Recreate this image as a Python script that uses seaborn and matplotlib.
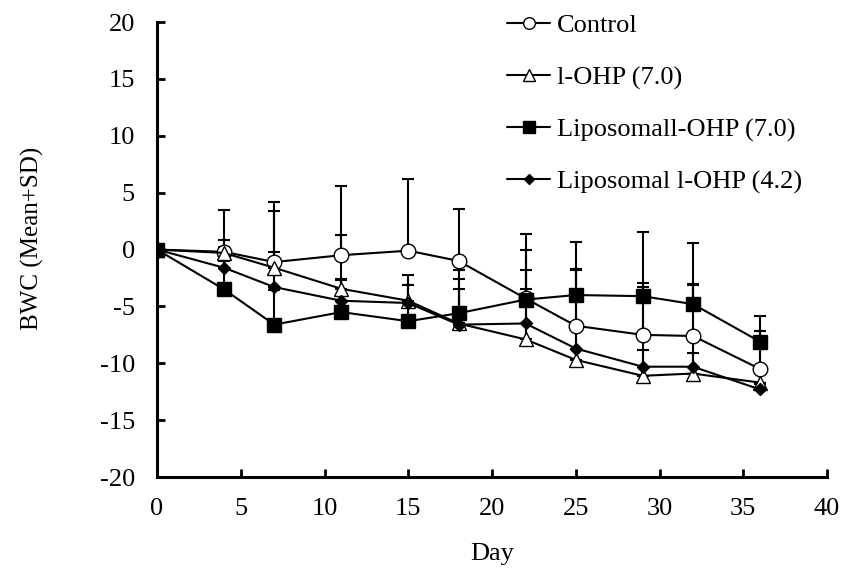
import numpy as np
import pandas as pd
import matplotlib
matplotlib.use("Agg")
import matplotlib.pyplot as plt
import seaborn as sns
from matplotlib.lines import Line2D

days = [0, 4, 7, 11, 15, 18, 22, 25, 29, 32, 36]
series_names = ["Control", "l-OHP (7.0)", "Liposomall-OHP (7.0)", "Liposomal l-OHP (4.2)"]
control = [0, -0.2, -1.1, -0.5, -0.1, -1.0, -4.3, -6.7, -7.5, -7.6, -10.5]
lohp = [0, -0.3, -1.6, -3.45, -4.5, -6.5, -7.9, -9.7, -11.1, -10.9, -11.7]
lipo70 = [0, -3.5, -6.6, -5.5, -6.3, -5.6, -4.4, -4.0, -4.1, -4.8, -8.1]
lipo42 = [0, -1.6, -3.3, -4.5, -4.7, -6.6, -6.5, -8.7, -10.3, -10.3, -12.3]
control_sd = [0, 3.7, 5.3, 6.1, 6.3, 4.6, 5.7, 7.4, 9.0, 8.2, 4.7]
lohp_sd = [0, 0.5, 5.0, 4.7, 2.3, 4.7, 7.9, 7.9, 8.2, 7.9, 4.5]
lipo70_sd = [0, 4.3, 3.0, 2.8, 3.2, 2.1, 2.6, 2.3, 0.8, 1.7, 0.9]
lipo42_sd = [0, 0.6, 3.1, 1.9, 1.6, 4.0, 3.0, 2.0, 1.5, 1.2, 0.5]

sns.set_theme(style="white")
plt.rcParams['font.family'] = ['Liberation Serif', 'DejaVu Serif']
plt.rcParams['axes.unicode_minus'] = False

fig = plt.figure(figsize=(8.5, 5.72), dpi=100)
ax = fig.add_axes([0.1847, 0.166, 0.973 - 0.1847, 0.9615 - 0.166])

vals = [control, lohp, lipo70, lipo42]
sds = [control_sd, lohp_sd, lipo70_sd, lipo42_sd]
styles = [
    dict(marker='o', markerfacecolor='white', markersize=10.5),
    dict(marker='^', markerfacecolor='white', markersize=10),
    dict(marker='s', markerfacecolor='black', markersize=10),
    dict(marker='D', markerfacecolor='black', markersize=6.5),
]

for name, v, sd, st in zip(series_names, vals, sds, styles):
    ax.errorbar(days, v, yerr=[np.zeros(len(sd)), sd], fmt='none', ecolor='black',
                elinewidth=1.5, capsize=4.5, capthick=1.5, zorder=2)

handles = []
for name, v, st in zip(series_names, vals, styles):
    df = pd.DataFrame({"Day": days, "BWC": v})
    sns.lineplot(data=df, x="Day", y="BWC", ax=ax, color='black', linewidth=1.5,
                 markeredgecolor='black', markeredgewidth=1.0, zorder=3, **st)
    hst = dict(st)
    hst['markersize'] = st['markersize'] * 0.8
    handles.append(Line2D([], [], color='black', linewidth=1.5,
                          markeredgecolor='black', markeredgewidth=1.0, **hst))

ax.set_xlim(0, 40)
ax.set_ylim(-20, 20)
ax.set_xticks(range(0, 41, 5))
ax.set_yticks(range(-20, 21, 5))
ax.tick_params(axis='both', direction='in', length=6, width=2, labelsize=19,
               colors='black', left=True, bottom=True)
ax.tick_params(axis='x', pad=15)
ax.tick_params(axis='y', pad=16)
for s in ['top', 'right']:
    ax.spines[s].set_visible(False)
for s in ['left', 'bottom']:
    ax.spines[s].set_color('black')
    ax.spines[s].set_linewidth(2.2)
ax.set_xlabel("Day", fontsize=19, color='black', labelpad=17)
ax.set_ylabel("BWC (Mean+SD)", fontsize=18, color='black')
ax.yaxis.set_label_coords(-0.168, 0.525)

leg = fig.legend(handles, series_names, loc='upper left', bbox_to_anchor=(507 / 850, 1 - 14 / 572),
                 frameon=False, fontsize=19, handlelength=1.63, handletextpad=0.27,
                 labelspacing=1.07, borderpad=0, borderaxespad=0)
for t in leg.get_texts():
    t.set_color('black')

fig.savefig("out.png", dpi=100)
